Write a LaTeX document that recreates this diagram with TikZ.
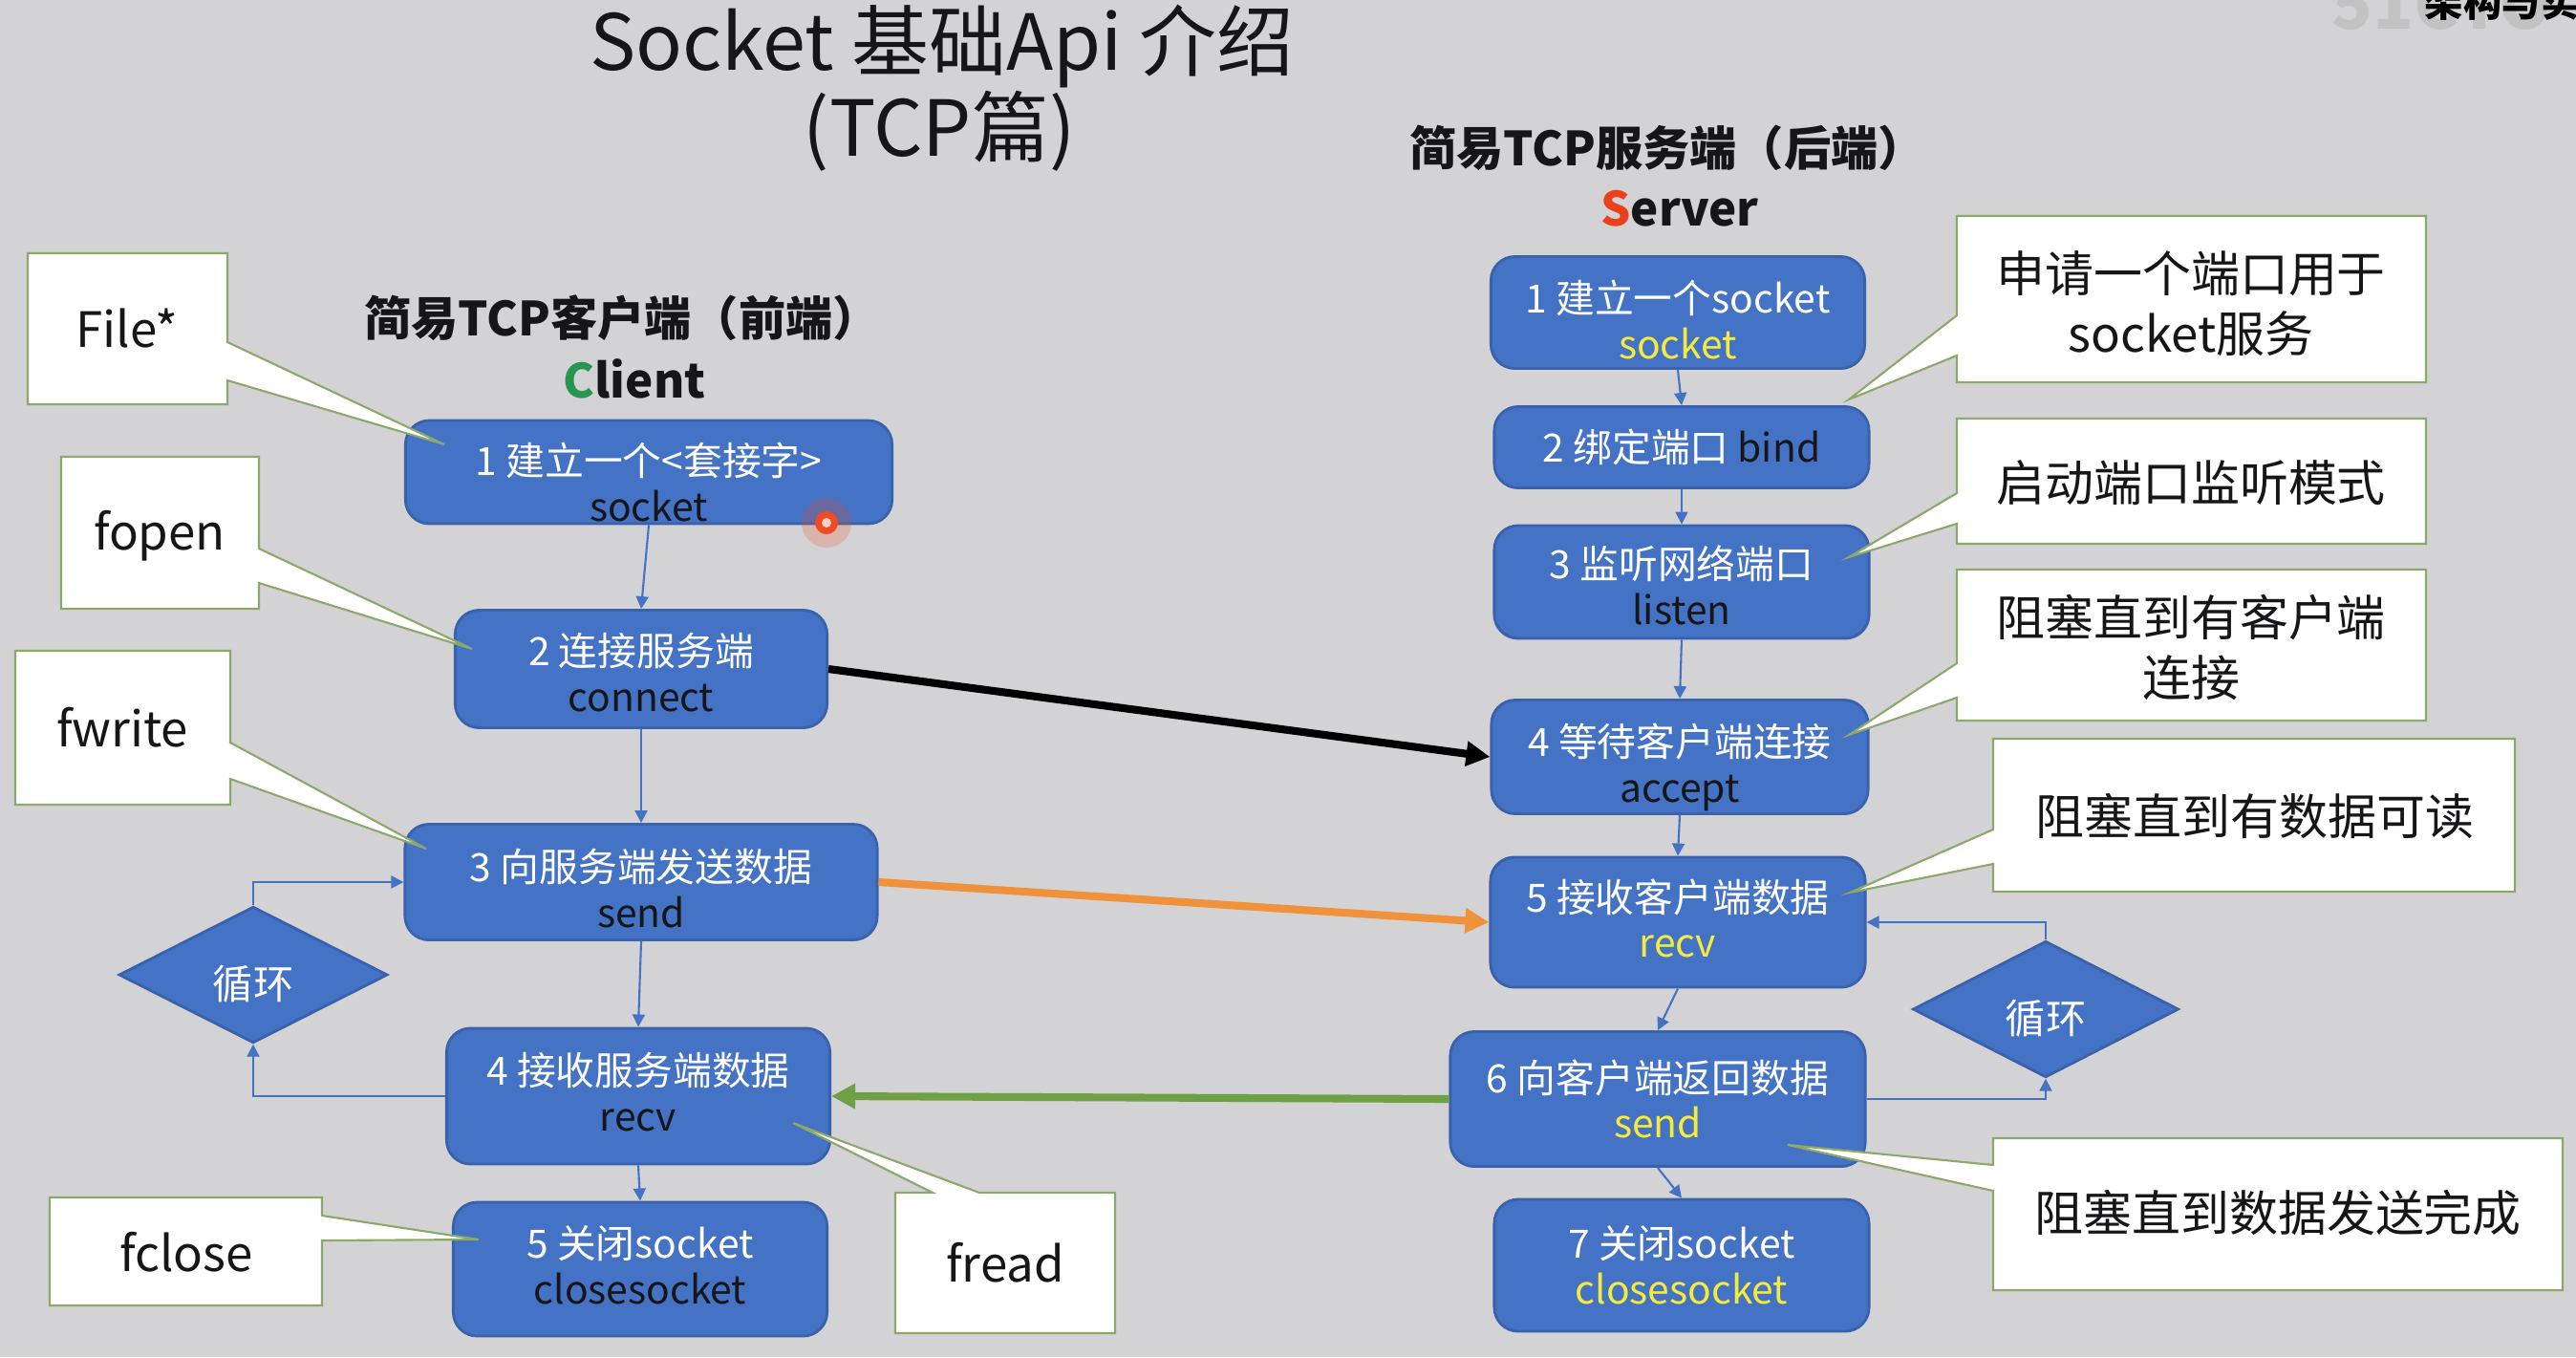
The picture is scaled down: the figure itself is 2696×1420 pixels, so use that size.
\documentclass[tikz,border=0pt]{standalone}
\usepackage{fontspec}
\newfontfamily\cjk{Noto Sans CJK SC}
\usetikzlibrary{shapes.geometric,arrows.meta,calc}
\definecolor{bg}{RGB}{211,210,212}
\definecolor{boxblue}{RGB}{68,114,196}
\definecolor{boxedge}{RGB}{58,98,172}
\definecolor{olive}{RGB}{140,168,106}
\definecolor{txtblack}{RGB}{22,22,24}
\definecolor{ylw}{RGB}{245,235,60}
\definecolor{cgreen}{RGB}{40,150,80}
\definecolor{sred}{RGB}{235,64,30}
\definecolor{arrorange}{RGB}{240,146,60}
\definecolor{arrgreen}{RGB}{112,160,70}
\definecolor{cursorred}{RGB}{240,74,35}
\newcommand{\tstrut}[1]{\rule{0pt}{#1}}
\newcommand{\bstrut}[1]{\rule[-#1]{0pt}{0pt}}
\begin{document}
\begin{tikzpicture}[x=0.01cm,y=-0.01cm,
  bx/.style={draw=boxedge, line width=0.8pt, fill=boxblue, rounded corners=0.25cm,
    text=white, align=center, inner sep=0pt, font=\cjk\fontsize{11.6}{13.6}\selectfont},
  dia/.style={diamond, draw=boxedge, line width=0.8pt, fill=boxblue, inner sep=0pt,
    text=white, font=\cjk\fontsize{12}{14}\selectfont},
  conn/.style={draw=boxblue, line width=0.6pt, -{Triangle[length=1.3mm,width=1.3mm]}},
  bigarr/.style={line width=2.3pt, -{Triangle[length=2.5mm,width=2.5mm]}},
  cshape/.style={fill=white, draw=olive, line width=0.6pt},
  ctext/.style={align=center, inner sep=0pt, text=txtblack, font=\cjk\fontsize{14.5}{17.9}\selectfont},
  head/.style={inner sep=0pt, text=txtblack, font=\cjk\bfseries\fontsize{14}{17}\selectfont},
  ttl/.style={inner sep=0pt, text=txtblack, font=\cjk\fontsize{23}{26}\selectfont}
]
% background / bounding box
\fill[bg] (0,0) rectangle (2696,1420);
\useasboundingbox (0,0) rectangle (2696,1420);

% watermark (cut at top edge, as in the reference)
\node[anchor=south west, inner sep=0pt, text=bg!80!gray, font=\cjk\bfseries\fontsize{20}{22}\selectfont] (wm1) at (2440,32) {51CTO};
\node[anchor=south west, inner sep=0pt, text=black, font=\cjk\bfseries\fontsize{11.5}{13}\selectfont] (wm2) at (2537,22) {架构与实践};

% titles
\node[ttl] (t1) at (986,48) {Socket 基础Api 介绍};
\node[ttl] (t2) at (983,137) {(TCP篇)};
\node[head] (hc) at (651,333) {简易TCP客户端（前端）};
\node[head] (hcl) at (664,396) {\textcolor{cgreen}{C}lient};
\node[head] (hs) at (1745,155) {简易TCP服务端（后端）};
\node[head] (hsv) at (1758,218) {\textcolor{sred}{S}erver};

% client boxes
\node[bx, minimum width=5.09cm, minimum height=1.08cm] (c1) at (679,494) {\tstrut{16pt}1 建立一个<套接字>\\\textcolor{txtblack}{socket}};
\node[bx, minimum width=3.89cm, minimum height=1.23cm] (c2) at (671,700) {\tstrut{12pt}2 连接服务端\\\textcolor{txtblack}{connect}};
\node[bx, minimum width=4.94cm, minimum height=1.21cm] (c3) at (671,923) {\tstrut{13.5pt}3 向服务端发送数据\\\textcolor{txtblack}{send}};
\node[bx, minimum width=4.01cm, minimum height=1.42cm] (c4) at (668,1147) {4 接收服务端数据\\\textcolor{txtblack}{recv}\bstrut{2.5pt}};
\node[bx, minimum width=3.91cm, minimum height=1.40cm] (c5) at (670,1328) {5 关闭socket\\\textcolor{txtblack}{closesocket}\bstrut{2.8pt}};
\node[dia, minimum width=2.81cm, minimum height=1.04cm] (dl) at (265,1020) {\tstrut{15.5pt}循环};

% server boxes
\node[bx, minimum width=3.91cm, minimum height=1.17cm] (s1) at (1756,327) {\tstrut{14pt}1 建立一个socket\\\textcolor{ylw}{socket}};
\node[bx, minimum width=3.92cm, minimum height=0.85cm] (s2) at (1760,468) {2 绑定端口 \textcolor{txtblack}{bind}};
\node[bx, minimum width=3.92cm, minimum height=1.18cm] (s3) at (1760,609) {\tstrut{12pt}3 监听网络端口\\\textcolor{txtblack}{listen}};
\node[bx, minimum width=3.94cm, minimum height=1.19cm] (s4) at (1758,792) {\tstrut{16pt}4 等待客户端连接\\\textcolor{txtblack}{accept}};
\node[bx, minimum width=3.92cm, minimum height=1.36cm] (s5) at (1756,965) {5 接收客户端数据\\\textcolor{ylw}{recv}\bstrut{2.5pt}};
\node[bx, minimum width=4.34cm, minimum height=1.41cm] (s6) at (1735,1150) {6 向客户端返回数据\\\textcolor{ylw}{send}};
\node[bx, minimum width=3.92cm, minimum height=1.38cm] (s7) at (1760,1324) {7 关闭socket\\\textcolor{ylw}{closesocket}};
\node[dia, minimum width=2.78cm, minimum height=1.06cm] (dr) at (2141,1056) {\tstrut{15.5pt}循环};

% flow connectors
\draw[conn] (c1.south) -- (c2.north);
\draw[conn] (c2.south) -- (c3.north);
\draw[conn] (c3.south) -- (c4.north);
\draw[conn] (c4.south) -- (c5.north);
\draw[conn] (c4.west) -| (dl.south);
\draw[conn] (dl.north) |- (c3.west);
\draw[conn] (s1.south) -- (s2.north);
\draw[conn] (s2.south) -- (s3.north);
\draw[conn] (s3.south) -- (s4.north);
\draw[conn] (s4.south) -- (s5.north);
\draw[conn] (s5.south) -- (s6.north);
\draw[conn] (s6.south) -- (s7.north);
\draw[conn] (s6.east) -| (dr.south);
\draw[conn] (dr.north) |- (s5.east);

% cross arrows
\draw[bigarr, draw=black, fill=black] (c2.east) -- (s4.west);
\draw[bigarr, draw=arrorange, fill=arrorange] (c3.east) -- (s5.west);
\draw[bigarr, draw=arrgreen, fill=arrgreen] (s6.west) -- (c4.east);

% callouts (left)
\filldraw[cshape] (29,265) -- (238,265) -- (238,358) -- (465,465) -- (238,398) -- (238,423) -- (29,423) -- cycle;
\node[ctext] (nfile) at (133,344) {File*};
\filldraw[cshape] (64,478) -- (271,478) -- (271,574) -- (494,679) -- (271,610) -- (271,637) -- (64,637) -- cycle;
\node[ctext] (nfopen) at (167,561) {fopen};
\filldraw[cshape] (16,681) -- (241,681) -- (241,777) -- (446,888) -- (241,815) -- (241,842) -- (16,842) -- cycle;
\node[ctext] (nfwrite) at (128,761) {fwrite};
\filldraw[cshape] (52,1253) -- (337,1253) -- (337,1272) -- (501,1297) -- (337,1298) -- (337,1366) -- (52,1366) -- cycle;
\node[ctext] (nfclose) at (195,1310) {fclose};
\filldraw[cshape] (937,1248) -- (976,1248) -- (830,1175) -- (1025,1248) -- (1167,1248) -- (1167,1395) -- (937,1395) -- cycle;
\node[ctext] (nfread) at (1052,1321) {fread};

% callouts (right)
\filldraw[cshape] (2048,226) -- (2539,226) -- (2539,400) -- (2048,400) -- (2048,372) -- (1935,418) -- (2048,330) -- cycle;
\node[ctext] (n1) at (2293,318) {申请一个端口用于\\socket服务};
\filldraw[cshape] (2048,438) -- (2539,438) -- (2539,569) -- (2048,569) -- (2048,548) -- (1935,583) -- (2048,516) -- cycle;
\node[ctext] (n2) at (2293,505) {启动端口监听模式};
\filldraw[cshape] (2048,596) -- (2539,596) -- (2539,754) -- (2048,754) -- (2048,730) -- (1935,769) -- (2048,694) -- cycle;
\node[ctext] (n3) at (2293,677) {阻塞直到有客户端\\连接};
\filldraw[cshape] (2086,773) -- (2632,773) -- (2632,933) -- (2086,933) -- (2086,904) -- (1936,934) -- (2086,868) -- cycle;
\node[ctext] (n4) at (2360,854) {阻塞直到有数据可读};
\filldraw[cshape] (2086,1191) -- (2682,1191) -- (2682,1350) -- (2086,1350) -- (2086,1246) -- (1871,1198) -- (2086,1219) -- cycle;
\node[ctext] (n5) at (2384,1269) {阻塞直到数据发送完成};

% cursor mark
\fill[cursorred, opacity=0.22] (865,547) circle (0.26cm);
\fill[cursorred] (865,547) circle (0.12cm);
\fill[white!75!cursorred] (865,547) circle (0.05cm);
\end{tikzpicture}
\end{document}
